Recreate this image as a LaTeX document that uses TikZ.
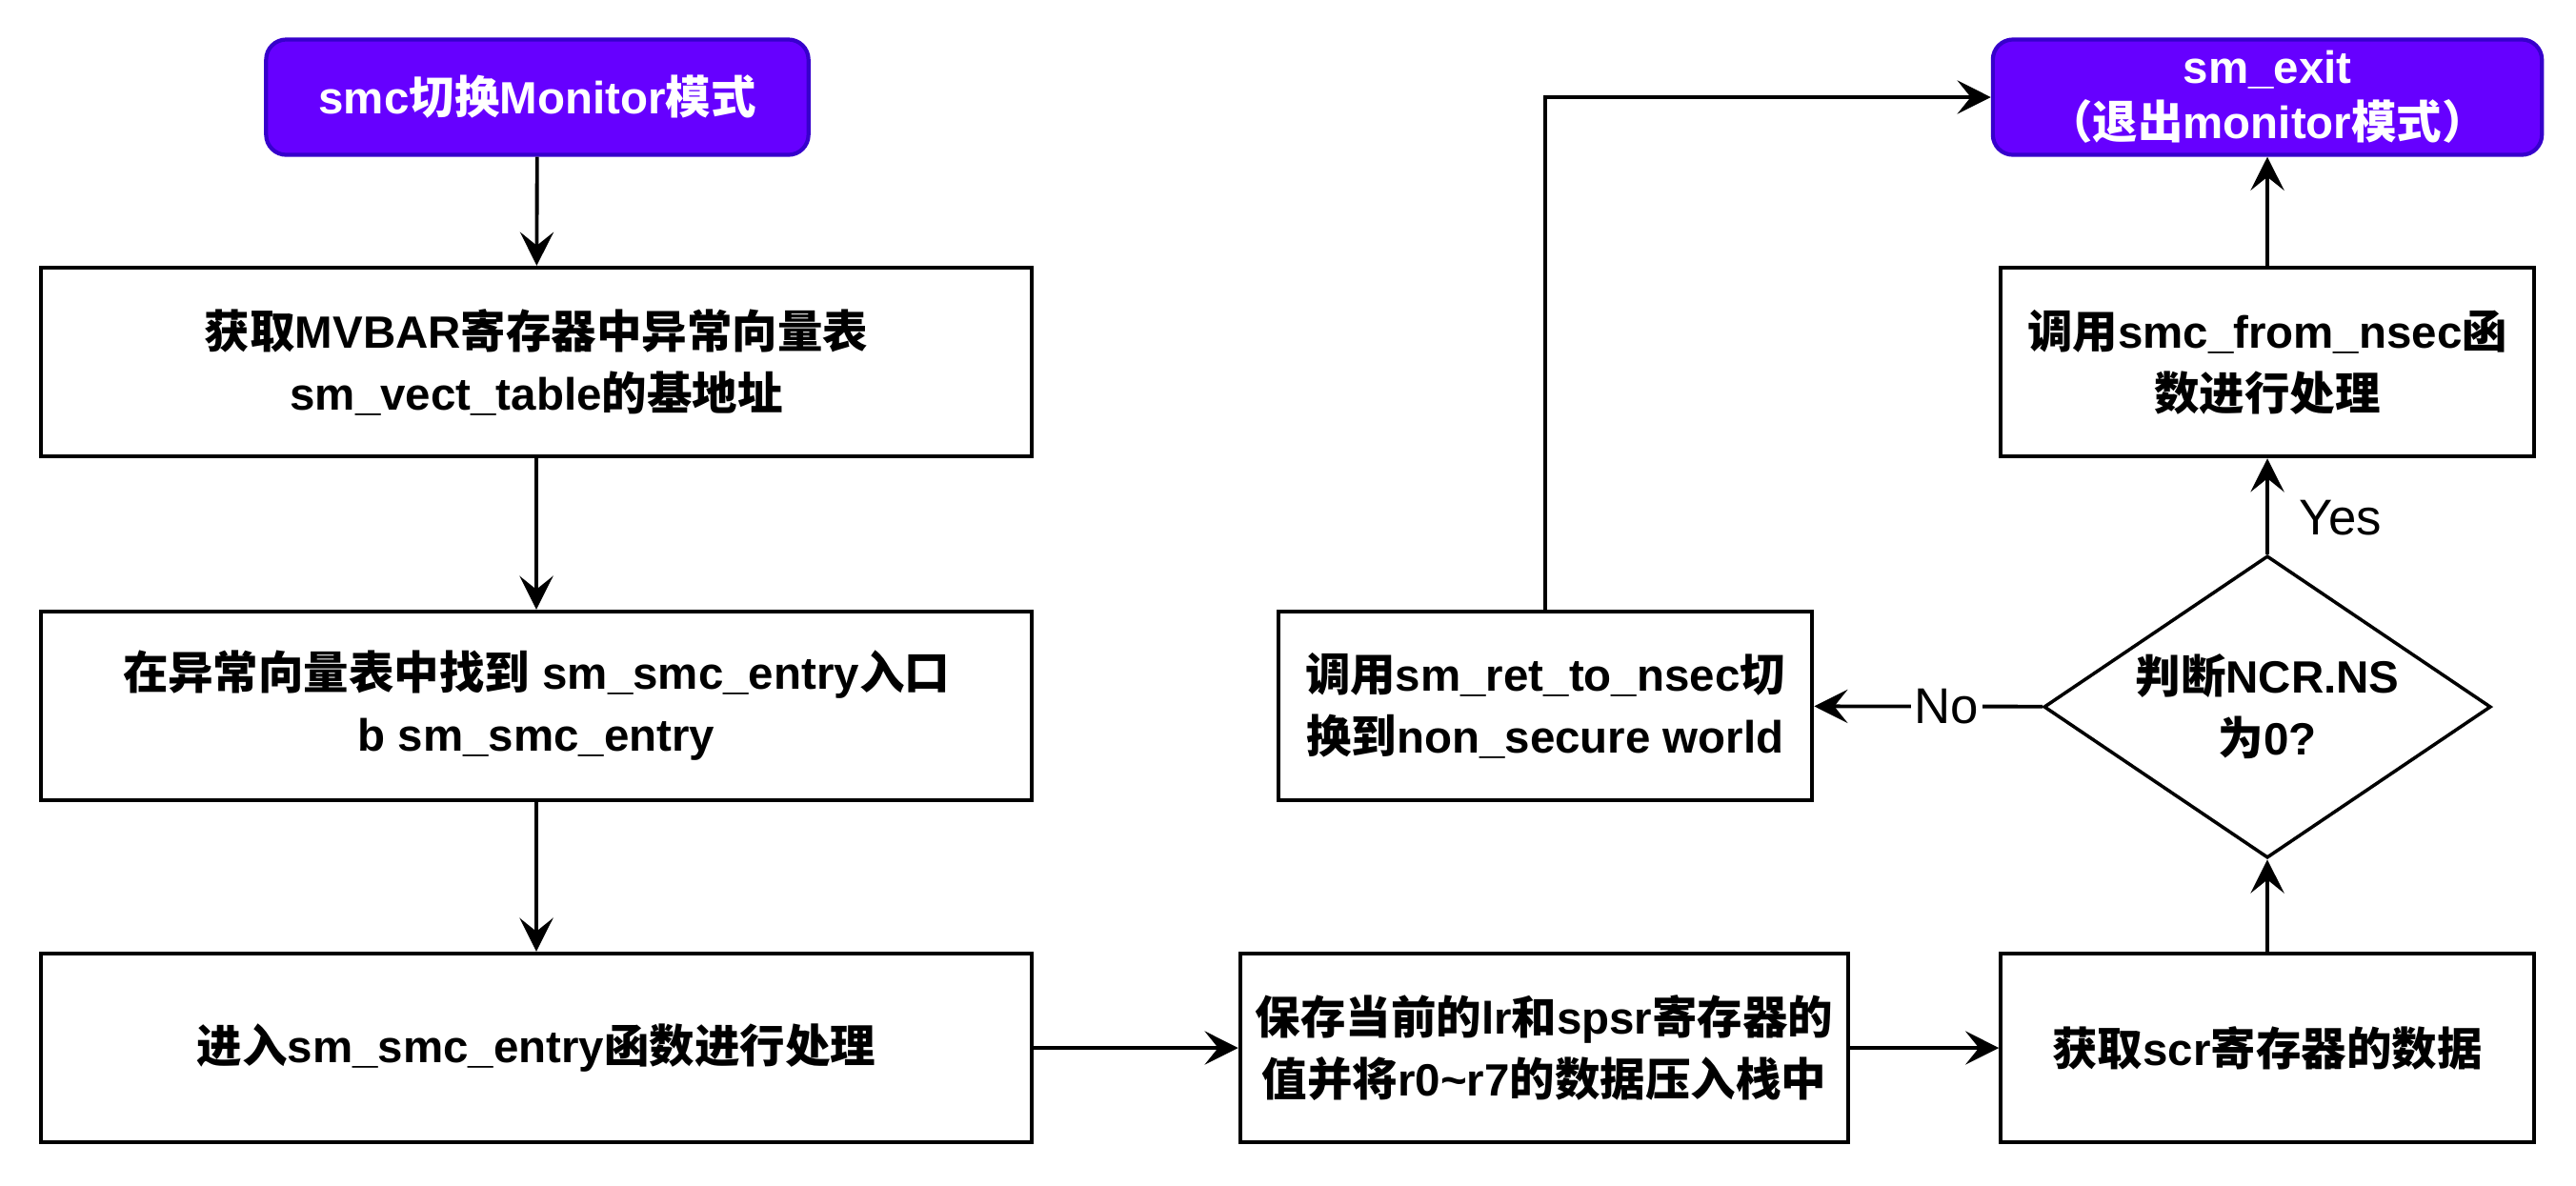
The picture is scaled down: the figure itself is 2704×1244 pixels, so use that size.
\documentclass[tikz,border=0pt]{standalone}
\usepackage{fontspec}
\setmainfont{Liberation Sans}
\newfontfamily\cjkfont{Noto Sans CJK SC}
\newcommand{\zh}[1]{{\cjkfont #1}}
\usepackage{tikz}
\usetikzlibrary{positioning,calc,arrows.meta,shapes.geometric}
\definecolor{smpurple}{HTML}{6600FF}
\definecolor{smedge}{HTML}{3700CC}

\begin{document}
\begin{tikzpicture}[x=0.01cm, y=-0.01cm,
  every node/.style={font=\fontsize{13.5}{18.5}\selectfont\bfseries, text=black},
  proc/.style ={draw=black, fill=white, line width=1.2pt,
                minimum width=5.6cm, minimum height=1.98cm, align=center, inner sep=0pt},
  term/.style ={draw=smedge, fill=smpurple, rounded corners=6pt, line width=1.2pt,
                minimum height=1.21cm, align=center, inner sep=0pt,
                font=\fontsize{13.5}{16.5}\selectfont\bfseries, text=white},
  cond/.style ={draw=black, fill=white, diamond, aspect=1.48, line width=1pt,
                minimum width=4.69cm, minimum height=3.17cm, align=center, inner sep=0pt},
  arrow/.style={-{Stealth[length=10pt, width=10pt, inset=4pt]}, draw=black, line width=1.1pt},
  lbl/.style  ={font=\fontsize{15}{18}\selectfont, fill=white, inner sep=1pt}]
\useasboundingbox (0,0) rectangle (2704,1244);
% left column
\node[term, minimum width=5.69cm] (start) at (564,102) {smc\zh{切换}Monitor\zh{模式}};
\node[proc, minimum width=10.4cm] (vect) at (563,380)
  {\zh{获取}MVBAR\zh{寄存器中异常向量表}\\sm\_vect\_table\zh{的基地址}};
\node[proc, minimum width=10.4cm] (entry) at (563,741)
  {\zh{在异常向量表中找到} sm\_smc\_entry\zh{入口}\\b sm\_smc\_entry};
\node[proc, minimum width=10.4cm] (handle) at (563,1100)
  {\zh{进入}sm\_smc\_entry\zh{函数进行处理}};
% bottom row
\node[proc, minimum width=6.38cm] (save) at (1621,1100)
  {\zh{保存当前的}lr\zh{和}spsr\zh{寄存器的}\\\zh{值并将}r0\textasciitilde r7\zh{的数据压入栈中}};
\node[proc, minimum width=5.59cm] (scr) at (2380,1100) {\zh{获取}scr\zh{寄存器的数据}};
% right column
\node[cond] (check) at (2380,742) {\zh{判断}NCR.NS\\\zh{为}0?};
\node[proc, minimum width=5.59cm] (fromns) at (2380,380)
  {\zh{调用}smc\_from\_nsec\zh{函}\\\zh{数进行处理}};
\node[term, minimum width=5.76cm] (exit) at (2380,102)
  {sm\_exit\\\zh{（退出}monitor\zh{模式）}};
\node[proc, minimum width=5.6cm] (retns) at (1622,741)
  {\zh{调用}sm\_ret\_to\_nsec\zh{切}\\\zh{换到}non\_secure world};
% connectors
\draw[arrow] (start) -- (vect);
\draw[arrow] (vect) -- (entry);
\draw[arrow] (entry) -- (handle);
\draw[arrow] (handle) -- (save);
\draw[arrow] (save) -- (scr);
\draw[arrow] (scr) -- (check);
\draw[arrow] (check) -- node[lbl, pos=0.38, right=8pt]{Yes} (fromns);
\draw[arrow] (check) -- node[lbl, pos=0.42]{No} (retns);
\draw[arrow] (fromns) -- (exit);
\draw[arrow] (retns.north) |- (exit.west);
\end{tikzpicture}
\end{document}
